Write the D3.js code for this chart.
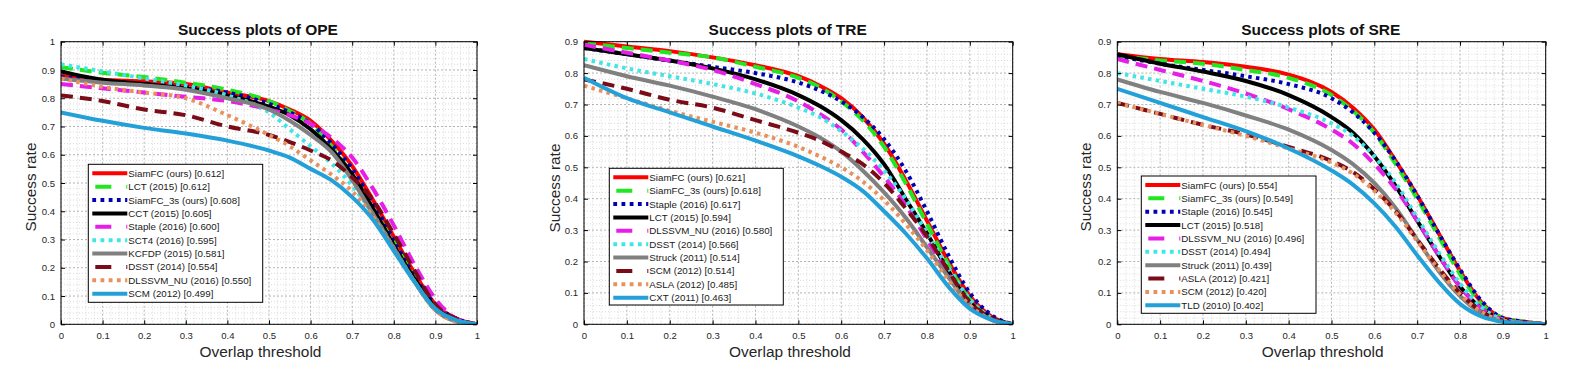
<!DOCTYPE html>
<html><head><meta charset="utf-8">
<script src="https://cdn.jsdelivr.net/npm/d3@7/dist/d3.min.js"></script>
<style>
body{margin:0;background:#fff;}
text{font-family:"Liberation Sans",Arial,Helvetica,sans-serif;}
</style>
</head><body>
<svg id="chart" width="1579" height="381"></svg>
<script>
// ---------------- DATA ----------------
const thresholds = [0,0.1,0.2,0.3,0.4,0.5,0.55,0.6,0.65,0.7,0.75,0.8,0.85,0.9,0.95,1];
const xTickValues = [0,0.1,0.2,0.3,0.4,0.5,0.6,0.7,0.8,0.9,1];
const yTicksOPE = [0,0.1,0.2,0.3,0.4,0.5,0.6,0.7,0.8,0.9,1];
const yTicksTRE = [0,0.1,0.2,0.3,0.4,0.5,0.6,0.7,0.8,0.9];
const yTicksSRE = [0,0.1,0.2,0.3,0.4,0.5,0.6,0.7,0.8,0.9];
const panelTitles = ["Success plots of OPE","Success plots of TRE","Success plots of SRE"];
const xAxisLabel = "Overlap threshold";
const yAxisLabel = "Success rate";

const opeLabels = ["SiamFC (ours) [0.612]","LCT (2015) [0.612]","SiamFC_3s (ours) [0.608]","CCT (2015) [0.605]","Staple (2016) [0.600]","SCT4 (2016) [0.595]","KCFDP (2015) [0.581]","DSST (2014) [0.554]","DLSSVM_NU (2016) [0.550]","SCM (2012) [0.499]"];
const opeValues = [
  [0.88,0.865,0.86,0.85,0.82,0.79,0.76,0.72,0.65,0.56,0.44,0.31,0.18,0.07,0.02,0],
  [0.91,0.89,0.875,0.855,0.83,0.79,0.755,0.71,0.63,0.53,0.41,0.29,0.17,0.06,0.015,0],
  [0.875,0.86,0.85,0.84,0.82,0.78,0.75,0.71,0.64,0.55,0.43,0.30,0.17,0.07,0.02,0],
  [0.895,0.865,0.85,0.835,0.81,0.77,0.74,0.69,0.62,0.53,0.41,0.28,0.16,0.06,0.015,0],
  [0.85,0.835,0.82,0.805,0.79,0.76,0.74,0.71,0.66,0.59,0.48,0.35,0.21,0.09,0.02,0],
  [0.92,0.895,0.87,0.845,0.81,0.75,0.69,0.63,0.57,0.49,0.39,0.27,0.15,0.05,0.015,0],
  [0.87,0.855,0.845,0.83,0.80,0.76,0.72,0.67,0.61,0.51,0.39,0.27,0.15,0.05,0.01,0],
  [0.81,0.79,0.76,0.74,0.70,0.67,0.645,0.615,0.58,0.52,0.44,0.32,0.19,0.07,0.02,0],
  [0.87,0.84,0.82,0.80,0.74,0.67,0.63,0.58,0.53,0.47,0.38,0.26,0.15,0.05,0.01,0],
  [0.75,0.72,0.695,0.675,0.65,0.615,0.59,0.55,0.51,0.45,0.37,0.26,0.15,0.055,0.015,0]
];

const treLabels = ["SiamFC (ours) [0.621]","SiamFC_3s (ours) [0.618]","Staple (2016) [0.617]","LCT (2015) [0.594]","DLSSVM_NU (2016) [0.580]","DSST (2014) [0.566]","Struck (2011) [0.514]","SCM (2012) [0.514]","ASLA (2012) [0.485]","CXT (2011) [0.463]"];
const treValues = [
  [0.90,0.885,0.87,0.85,0.825,0.79,0.76,0.72,0.66,0.575,0.46,0.33,0.20,0.09,0.025,0],
  [0.895,0.88,0.865,0.85,0.82,0.785,0.755,0.71,0.65,0.565,0.45,0.32,0.19,0.08,0.02,0],
  [0.88,0.86,0.84,0.82,0.80,0.77,0.745,0.71,0.66,0.59,0.49,0.36,0.22,0.10,0.03,0],
  [0.88,0.86,0.84,0.815,0.78,0.73,0.695,0.65,0.59,0.51,0.40,0.29,0.17,0.07,0.02,0],
  [0.89,0.865,0.84,0.81,0.765,0.71,0.67,0.62,0.55,0.47,0.38,0.27,0.16,0.06,0.015,0],
  [0.845,0.815,0.79,0.765,0.735,0.69,0.66,0.615,0.56,0.49,0.40,0.29,0.18,0.08,0.02,0],
  [0.825,0.79,0.76,0.725,0.685,0.63,0.595,0.55,0.49,0.42,0.34,0.245,0.15,0.06,0.015,0],
  [0.78,0.75,0.715,0.69,0.65,0.61,0.585,0.55,0.51,0.45,0.37,0.28,0.17,0.07,0.02,0],
  [0.76,0.72,0.68,0.645,0.61,0.565,0.535,0.50,0.455,0.395,0.32,0.235,0.14,0.06,0.015,0],
  [0.785,0.72,0.675,0.63,0.585,0.535,0.505,0.47,0.425,0.36,0.29,0.21,0.12,0.05,0.015,0]
];

const sreLabels = ["SiamFC (ours) [0.554]","SiamFC_3s (ours) [0.549]","Staple (2016) [0.545]","LCT (2015) [0.518]","DLSSVM_NU (2016) [0.496]","DSST (2014) [0.494]","Struck (2011) [0.439]","ASLA (2012) [0.421]","SCM (2012) [0.420]","TLD (2010) [0.402]"];
const sreValues = [
  [0.86,0.845,0.835,0.82,0.795,0.74,0.69,0.62,0.52,0.41,0.29,0.17,0.07,0.02,0.008,0],
  [0.855,0.84,0.83,0.81,0.785,0.73,0.68,0.61,0.51,0.40,0.28,0.16,0.065,0.02,0.008,0],
  [0.855,0.83,0.81,0.79,0.765,0.72,0.675,0.61,0.52,0.41,0.29,0.175,0.075,0.02,0.008,0],
  [0.86,0.83,0.805,0.775,0.73,0.66,0.61,0.535,0.44,0.33,0.22,0.12,0.05,0.015,0.005,0],
  [0.845,0.81,0.775,0.735,0.685,0.62,0.575,0.51,0.43,0.33,0.22,0.12,0.05,0.015,0.005,0],
  [0.80,0.775,0.75,0.725,0.69,0.64,0.60,0.535,0.45,0.34,0.23,0.13,0.055,0.015,0.005,0],
  [0.78,0.74,0.705,0.665,0.62,0.555,0.51,0.45,0.37,0.27,0.17,0.09,0.035,0.01,0.004,0],
  [0.705,0.67,0.635,0.605,0.565,0.52,0.485,0.43,0.36,0.27,0.18,0.10,0.04,0.012,0.004,0],
  [0.705,0.67,0.635,0.60,0.56,0.515,0.48,0.425,0.355,0.265,0.175,0.095,0.04,0.012,0.004,0],
  [0.75,0.705,0.66,0.615,0.56,0.49,0.445,0.385,0.31,0.22,0.135,0.065,0.025,0.008,0.003,0]
];

// ---------------- STYLE / LAYOUT ----------------
const seriesColors = ["#ff0000","#22e622","#0000b4","#000000","#e61ee6","#40e6e6","#808080","#7a0c18","#e8915c","#24a0d8"];
const seriesDash = ["solid","dashed","dotted","solid","dashed","dotted","solid","dashed","dotted","solid"];
const dashPlot = {solid:null, dashed:"12,7", dotted:"3.5,4.3"};
const dashLegend = {solid:null, dashed:"0,3,16,15,1,20", dotted:"3.8,4.4"};

const layouts = [
  {L:61, R:477, T:41.7, B:324.3, ymax:1, yticks:yTicksOPE, labels:opeLabels, values:opeValues,
   titleX:258, xlabX:260.5, ylabX:29.5, ylabY:187, legend:{x:88.3,y:164.3,w:174.4,h:138}},
  {L:584, R:1012.7, T:41.7, B:324.3, ymax:0.9, yticks:yTicksTRE, labels:treLabels, values:treValues,
   titleX:787.7, xlabX:790, ylabX:553.5, ylabY:188, legend:{x:609.3,y:168.3,w:174,h:136.7}},
  {L:1117.3, R:1545.7, T:41.7, B:324.3, ymax:0.9, yticks:yTicksSRE, labels:sreLabels, values:sreValues,
   titleX:1320.7, xlabX:1322.7, ylabX:1085, ylabY:187, legend:{x:1141.3,y:176,w:174.7,h:137.3}}
];

const svg = d3.select("#chart");
svg.append("rect").attr("width",1579).attr("height",381).attr("fill","#fff");
const fmt = d => String(+(+d).toFixed(1));

// fit a font size so that a sample string reaches a target width
function fitSize(str, target, weight) {
  const t = svg.append("text").attr("font-size",10).attr("font-weight",weight||"normal").text(str);
  const w = t.node().getComputedTextLength();
  t.remove();
  return w > 0 ? 10*target/w : 10;
}
const legendFont = fitSize("SiamFC (ours) [0.612]", 96);
const titleFont = fitSize("Success plots of OPE", 160, "bold");
const xlabFont = fitSize("Overlap threshold", 122);
const ylabFont = fitSize("Success rate", 89);
const tickFont = fitSize("0.1", 13.3);

layouts.forEach((p, pi) => {
  const x = d3.scaleLinear().domain([0,1]).range([p.L,p.R]);
  const y = d3.scaleLinear().domain([0,p.ymax]).range([p.B,p.T]);
  const g = svg.append("g");

  // minor grid
  const minorX = d3.range(0,1.0001,0.02).filter(v => Math.abs(v*10-Math.round(v*10))>1e-6);
  const minorY = d3.range(0,p.ymax+0.0001,0.02).filter(v => Math.abs(v*10-Math.round(v*10))>1e-6);
  g.selectAll(".mx").data(minorX).enter().append("line")
    .attr("x1",d=>x(d)).attr("x2",d=>x(d)).attr("y1",p.T).attr("y2",p.B)
    .attr("stroke","#d0d0d0").attr("stroke-width",0.8).attr("stroke-dasharray","1,2");
  g.selectAll(".my").data(minorY).enter().append("line")
    .attr("y1",d=>y(d)).attr("y2",d=>y(d)).attr("x1",p.L).attr("x2",p.R)
    .attr("stroke","#d0d0d0").attr("stroke-width",0.8).attr("stroke-dasharray","1,2");
  // major grid
  g.selectAll(".gx").data(xTickValues).enter().append("line")
    .attr("x1",d=>x(d)).attr("x2",d=>x(d)).attr("y1",p.T).attr("y2",p.B)
    .attr("stroke","#b4b4b4").attr("stroke-width",1).attr("stroke-dasharray","2,2");
  g.selectAll(".gy").data(p.yticks).enter().append("line")
    .attr("y1",d=>y(d)).attr("y2",d=>y(d)).attr("x1",p.L).attr("x2",p.R)
    .attr("stroke","#b4b4b4").attr("stroke-width",1).attr("stroke-dasharray","2,2");

  // clip
  const clipId = "clip"+pi;
  svg.append("clipPath").attr("id",clipId).append("rect")
    .attr("x",p.L).attr("y",p.T-3).attr("width",p.R-p.L+3).attr("height",p.B-p.T+3);

  const line = d3.line().x((d,i)=>x(thresholds[i])).y(d=>y(d)).curve(d3.curveMonotoneX);
  const lg = g.append("g").attr("clip-path",`url(#${clipId})`);
  p.values.forEach((vals, si) => {
    lg.append("path").datum(vals).attr("d",line)
      .attr("fill","none").attr("stroke",seriesColors[si]).attr("stroke-width",4)
      .attr("stroke-dasharray",dashPlot[seriesDash[si]])
      .attr("stroke-linejoin","round");
  });

  // axes
  const ax = g.append("g");
  ax.append("g").attr("transform",`translate(0,${p.B})`)
    .call(d3.axisBottom(x).tickValues(xTickValues).tickFormat(fmt).tickSize(-4).tickSizeOuter(0).tickPadding(8));
  ax.append("g").attr("transform",`translate(${p.L},0)`)
    .call(d3.axisLeft(y).tickValues(p.yticks).tickFormat(fmt).tickSize(-4).tickSizeOuter(0).tickPadding(6));
  ax.append("g").attr("transform",`translate(0,${p.T})`)
    .call(d3.axisTop(x).tickValues(xTickValues).tickFormat("").tickSize(-4).tickSizeOuter(0));
  ax.append("g").attr("transform",`translate(${p.R},0)`)
    .call(d3.axisRight(y).tickValues(p.yticks).tickFormat("").tickSize(-4).tickSizeOuter(0));
  ax.selectAll(".domain").remove();
  ax.selectAll(".tick line").attr("stroke","#000");
  ax.selectAll(".tick text").attr("font-size",tickFont).attr("fill","#262626")
    .attr("font-family",'"Liberation Sans",Arial,sans-serif');
  g.append("rect").attr("x",p.L).attr("y",p.T).attr("width",p.R-p.L).attr("height",p.B-p.T)
    .attr("fill","none").attr("stroke","#000").attr("stroke-width",1);

  // titles
  g.append("text").attr("x",p.titleX).attr("y",35).attr("text-anchor","middle")
    .attr("font-size",titleFont).attr("font-weight","bold").attr("fill","#111").text(panelTitles[pi]);
  g.append("text").attr("x",p.xlabX).attr("y",357).attr("text-anchor","middle")
    .attr("font-size",xlabFont).attr("fill","#262626").text(xAxisLabel);
  g.append("text").attr("transform",`translate(${p.ylabX+6},${p.ylabY}) rotate(-90)`)
    .attr("text-anchor","middle").attr("font-size",ylabFont).attr("fill","#262626").text(yAxisLabel);

  // legend
  const Lg = p.legend;
  const leg = g.append("g");
  leg.append("rect").attr("x",Lg.x).attr("y",Lg.y).attr("width",Lg.w).attr("height",Lg.h)
    .attr("fill","#fff").attr("stroke","#000").attr("stroke-width",1);
  const rowH = 13.37;
  p.labels.forEach((lab, si) => {
    const cy = Lg.y + 9 + si*rowH;
    leg.append("line").attr("x1",Lg.x+4).attr("x2",Lg.x+39).attr("y1",cy).attr("y2",cy)
      .attr("stroke",seriesColors[si]).attr("stroke-width",4)
      .attr("stroke-dasharray",dashLegend[seriesDash[si]]);
    leg.append("text").attr("x",Lg.x+40).attr("y",cy+0.36*legendFont).attr("font-size",legendFont)
      .attr("fill","#1a1a1a").text(lab);
  });
});
</script>
</body></html>
